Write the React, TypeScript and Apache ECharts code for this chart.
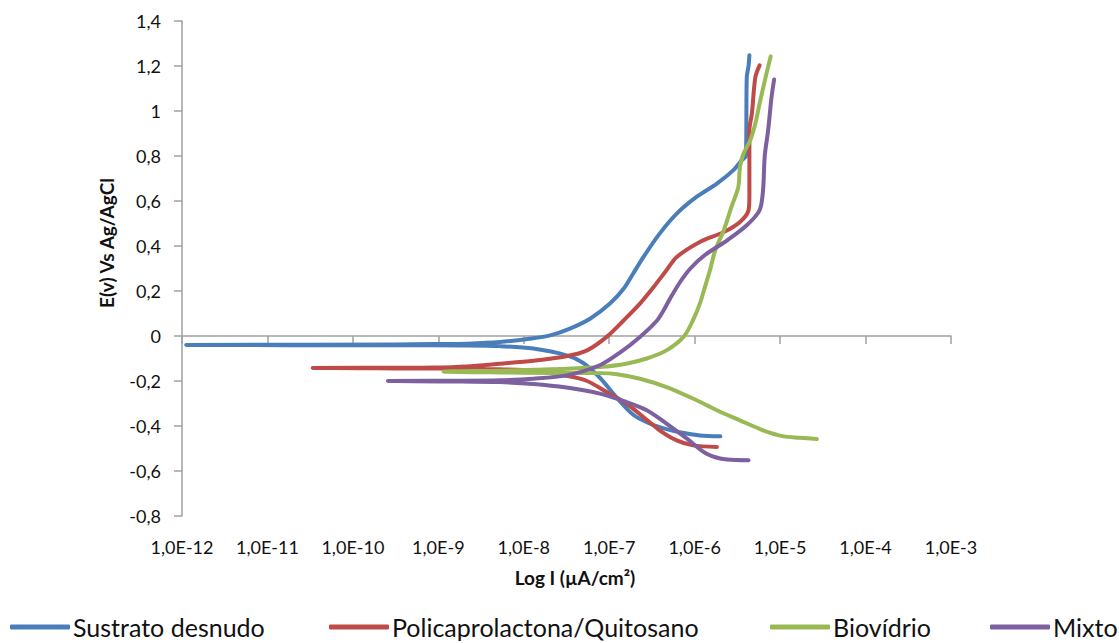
import React, { useEffect, useRef } from 'react';
import * as echarts from 'echarts';

const seriesNames = ['Sustrato desnudo', 'Policaprolactona/Quitosano', 'Biovídrio', 'Mixto'];
const seriesColors = ['#4A7EBB', '#BE4B48', '#98B954', '#7D60A0'];

// Current density (x) and potential (y) — ordered from cathodic end, through Ecorr, to anodic end
const sustratoI = [2.0e-6, 1.15e-6, 7.24e-7, 4.79e-7, 3.02e-7, 1.91e-7, 1.23e-7, 7.76e-8, 4.9e-8, 3.24e-8, 1.29e-8, 5.25e-9, 2.09e-9, 3.16e-10, 1.12e-12, 3.16e-10, 8.71e-10, 2.19e-9, 5.25e-9, 1.17e-8, 2.04e-8, 3.47e-8, 6.03e-8, 1.02e-7, 1.48e-7, 1.91e-7, 2.51e-7, 3.89e-7, 6.17e-7, 1.05e-6, 1.82e-6, 2.82e-6, 3.55e-6, 3.98e-6, 4.07e-6, 4.27e-6, 4.37e-6];
const sustratoE = [-0.446, -0.442, -0.43, -0.415, -0.39, -0.35, -0.275, -0.185, -0.118, -0.087, -0.056, -0.045, -0.042, -0.041, -0.04, -0.038, -0.036, -0.034, -0.027, -0.012, 0.003, 0.033, 0.078, 0.144, 0.211, 0.278, 0.351, 0.455, 0.544, 0.618, 0.677, 0.736, 0.781, 0.8, 1.15, 1.2, 1.248];

const pclI = [1.82e-6, 9.55e-7, 6.17e-7, 3.89e-7, 2.51e-7, 1.58e-7, 9.33e-8, 5.5e-8, 3.16e-8, 1.29e-8, 5.25e-9, 1.58e-9, 3.16e-10, 3.39e-11, 3.16e-10, 8.71e-10, 2.14e-9, 5.25e-9, 1.29e-8, 3.16e-8, 5.5e-8, 9.33e-8, 1.48e-7, 2.29e-7, 3.31e-7, 4.68e-7, 6.17e-7, 1.15e-6, 2.19e-6, 3.39e-6, 4.27e-6, 4.37e-6, 4.37e-6, 4.68e-6, 5.13e-6, 5.75e-6];
const pclE = [-0.493, -0.486, -0.464, -0.419, -0.36, -0.3, -0.249, -0.2, -0.177, -0.155, -0.148, -0.145, -0.144, -0.142, -0.141, -0.14, -0.135, -0.123, -0.11, -0.09, -0.064, -0.004, 0.07, 0.144, 0.218, 0.292, 0.351, 0.418, 0.462, 0.507, 0.559, 0.62, 0.914, 0.99, 1.15, 1.203];

const bioI = [2.69e-5, 1.7e-5, 1.1e-5, 6.31e-6, 3.39e-6, 1.82e-6, 9.55e-7, 4.68e-7, 2.29e-7, 1.23e-7, 7.76e-8, 2.04e-8, 5.25e-9, 1.15e-9, 5.25e-9, 1.29e-8, 3.16e-8, 7.76e-8, 1.58e-7, 2.75e-7, 4.68e-7, 7.41e-7, 9.55e-7, 1.15e-6, 1.32e-6, 1.51e-6, 1.74e-6, 2.19e-6, 2.69e-6, 3.24e-6, 3.39e-6, 3.72e-6, 4.47e-6, 5.13e-6, 5.75e-6, 6.92e-6, 7.76e-6];
const bioE = [-0.458, -0.452, -0.446, -0.419, -0.375, -0.33, -0.278, -0.227, -0.19, -0.17, -0.165, -0.164, -0.162, -0.158, -0.154, -0.15, -0.146, -0.138, -0.123, -0.1, -0.064, -0.004, 0.07, 0.144, 0.218, 0.292, 0.381, 0.47, 0.573, 0.662, 0.751, 0.81, 0.87, 0.944, 1.033, 1.166, 1.243];

const mixtoI = [4.27e-6, 2.4e-6, 1.38e-6, 8.13e-7, 4.68e-7, 2.75e-7, 1.58e-7, 7.76e-8, 3.16e-8, 1.29e-8, 5.25e-9, 1.58e-9, 2.57e-10, 1.58e-9, 5.25e-9, 1.29e-8, 3.16e-8, 7.76e-8, 1.32e-7, 2.29e-7, 3.63e-7, 4.27e-7, 5.13e-7, 6.76e-7, 8.91e-7, 1.32e-6, 2.4e-6, 4.07e-6, 5.75e-6, 6.31e-6, 6.61e-6, 7.24e-6, 7.94e-6, 8.51e-6];
const mixtoE = [-0.552, -0.549, -0.523, -0.456, -0.389, -0.33, -0.293, -0.256, -0.229, -0.213, -0.205, -0.202, -0.2, -0.199, -0.197, -0.19, -0.175, -0.13, -0.075, -0.004, 0.069, 0.11, 0.165, 0.24, 0.3, 0.36, 0.425, 0.492, 0.559, 0.648, 0.8, 0.914, 1.062, 1.14];

const xMin = 1e-12;
const xMax = 1e-3;
const yMin = -0.8;
const yMax = 1.4;
const yInterval = 0.2;

const xTitle = 'Log I (µA/cm²)';
const yTitle = 'E(v) Vs Ag/AgCl';

const legendLefts = [10, 329, 770, 990];

const zip = (xs: number[], ys: number[]) => xs.map((x, i) => [x, ys[i]]);

export default function App() {
  const ref = useRef<HTMLDivElement>(null);
  useEffect(() => {
    if (!ref.current) return;
    const chart = echarts.init(ref.current, undefined, { renderer: 'svg' });
    const datasets = [
      zip(sustratoI, sustratoE),
      zip(pclI, pclE),
      zip(bioI, bioE),
      zip(mixtoI, mixtoE),
    ];
    const axisColor = '#A0A0A0';
    const font = 'Lato';
    chart.setOption({
      animation: false,
      backgroundColor: '#ffffff',
      grid: { left: 182, top: 21, right: 168, bottom: 127, containLabel: false, outerBoundsMode: 'none' },
      xAxis: {
        type: 'log',
        logBase: 10,
        min: xMin,
        max: xMax,
        splitNumber: 9,
        axisLine: { show: true, lineStyle: { color: axisColor, width: 1.5 } },
        axisTick: { show: true, length: 8, lineStyle: { color: axisColor, width: 1.5 } },
        minorTick: { show: false },
        splitLine: { show: false },
        axisLabel: {
          margin: 22,
          fontFamily: font,
          fontSize: 18,
          color: '#111',
          formatter: (v: number) => '1,0E' + Math.round(Math.log10(v)),
        },
      },
      yAxis: {
        type: 'value',
        min: yMin,
        max: yMax,
        interval: yInterval,
        axisLine: { show: true, lineStyle: { color: axisColor, width: 1.5 } },
        axisTick: { show: true, length: 8, lineStyle: { color: axisColor, width: 1.5 } },
        splitLine: { show: false },
        axisLabel: {
          margin: 21,
          fontFamily: font,
          fontSize: 18,
          color: '#111',
          formatter: (v: number) => String(Math.round(v * 10) / 10).replace('.', ','),
        },
      },
      legend: seriesNames.map((name, i) => ({
        data: [name],
        left: legendLefts[i],
        top: 614,
        icon: 'roundRect',
        itemWidth: 60,
        itemHeight: 5,
        itemGap: 0,
        padding: 0,
        textStyle: { fontFamily: font, fontSize: 25, lineHeight: 26, color: '#111', padding: [0, 0, 0, -2] },
      })),
      graphic: [
        {
          type: 'text',
          x: 106,
          y: 243,
          rotation: Math.PI / 2,
          style: { text: yTitle, font: `bold 19px ${font}`, fill: '#111', align: 'center', verticalAlign: 'middle' },
        },
        {
          type: 'text',
          x: 575,
          y: 577,
          style: { text: xTitle, font: `bold 19px ${font}`, fill: '#111', align: 'center', verticalAlign: 'middle' },
        },
      ],
      series: seriesNames.map((name, i) => ({
        name,
        type: 'line',
        data: datasets[i],
        showSymbol: false,
        symbol: 'none',
        smooth: 0.3,
        color: seriesColors[i],
        lineStyle: { color: seriesColors[i], width: 4, cap: 'round', join: 'round' },
        emphasis: { disabled: true },
      })),
    });
    return () => chart.dispose();
  }, []);
  return <div ref={ref} style={{ position: 'fixed', left: 0, top: 0, width: 1119, height: 643 }} />;
}
